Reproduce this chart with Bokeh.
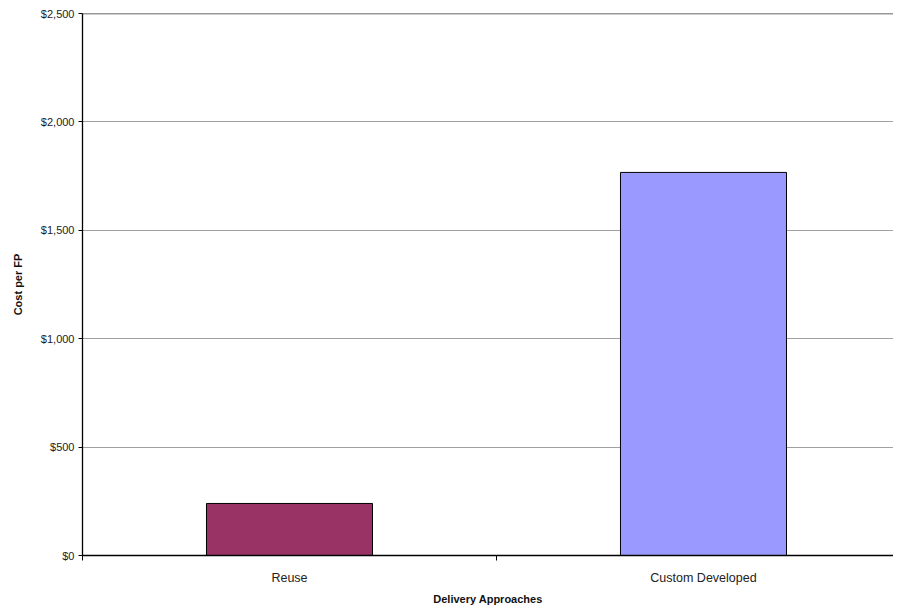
from bokeh.plotting import figure
from bokeh.models import Range1d, FixedTicker, NumeralTickFormatter, ColumnDataSource, Span
from bokeh.embed import file_html
from bokeh.resources import INLINE

categories = ["Reuse", "Custom Developed"]
costs = [240, 1767]
colors = ["#993366", "#9999FF"]
y_ticks = [0, 500, 1000, 1500, 2000, 2500]

positions = [i + 0.5 for i in range(len(categories))]
src = ColumnDataSource(dict(x=positions, top=costs, color=colors, name=categories))

p = figure(width=893, height=607, output_backend="svg", toolbar_location=None,
           x_range=Range1d(0, 1.959), y_range=Range1d(0, y_ticks[-1]),
           min_border_left=82, min_border_right=0, min_border_top=13, min_border_bottom=52)
p.outline_line_color = None
p.vbar(x="x", top="top", width=0.401, bottom=0, fill_color="color", line_color="black", line_width=1, source=src)
p.add_layout(Span(location=y_ticks[-1], dimension="width", line_color="#333333", line_width=1.5))

FONT = "Liberation Sans"
p.xaxis.ticker = FixedTicker(ticks=positions, minor_ticks=[0, 1, 2])
p.xaxis.major_label_overrides = {pos: c for pos, c in zip(positions, categories)}
p.xaxis.major_tick_out = 0
p.xaxis.major_tick_in = 0
p.xaxis.minor_tick_out = 5
p.xaxis.minor_tick_in = 0
p.xaxis.major_label_standoff = 10
p.xaxis.axis_label = "Delivery Approaches"
p.xaxis.axis_label_text_font_style = "bold"
p.xaxis.axis_label_standoff = 5

p.yaxis.ticker = FixedTicker(ticks=y_ticks, minor_ticks=[])
p.yaxis.formatter = NumeralTickFormatter(format="$0,0")
p.yaxis.major_tick_out = 4
p.yaxis.major_tick_in = 0
p.yaxis.major_label_standoff = 4
p.yaxis.axis_label = "Cost per FP"
p.yaxis.axis_label_text_font_style = "bold"
p.yaxis.axis_label_standoff = 14

for ax in (p.xaxis, p.yaxis):
    ax.axis_line_color = "black"
    ax.axis_line_width = 1.3
    ax.major_tick_line_color = "black"
    ax.minor_tick_line_color = "black"
    ax.major_label_text_font = FONT
    ax.major_label_text_font_size = "11px"
    ax.major_label_text_color = "#222222"
    ax.axis_label_text_font = FONT
    ax.axis_label_text_font_size = "11px"
    ax.axis_label_text_color = "#111111"
p.xaxis.major_label_text_font_size = "12.5px"

p.xgrid.grid_line_color = None
p.ygrid.grid_line_color = "#a0a0a0"
p.ygrid.grid_line_width = 1

open("out.html", "w").write(file_html(p, INLINE))
